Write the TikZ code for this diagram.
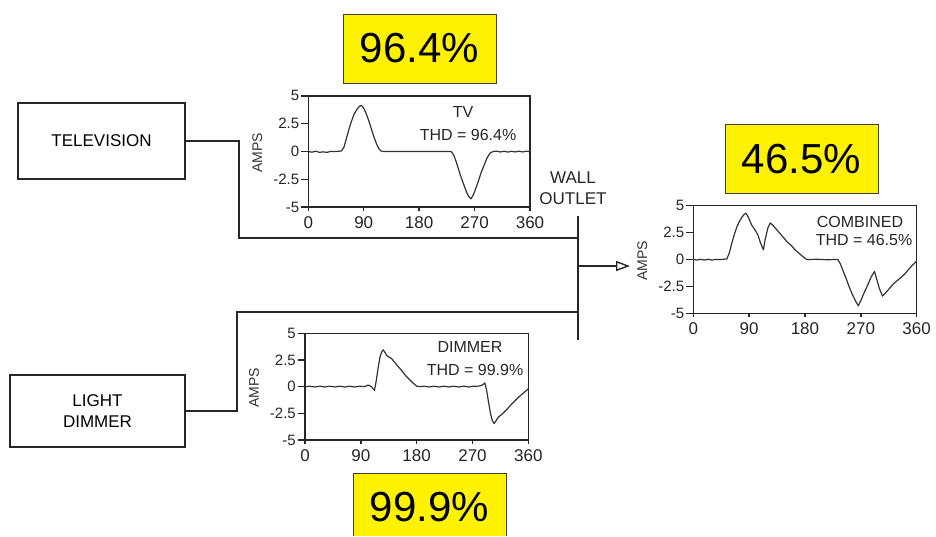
\documentclass[tikz,border=0pt]{standalone}
\usepackage{fontspec}
\setmainfont{Liberation Sans}
\usetikzlibrary{arrows.meta}
\newcommand\axesbox[5]{% #1 name, #2 left, #3 top, #4 width, #5 height
  \draw[tickln] (#2,#3) rectangle (#2+#4,#3+#5);
  \foreach \l [count=\i from 0] in {5,2.5,0,-2.5,-5}{
    \pgfmathsetmacro\yy{#3+\i*#5/4}
    \draw[tickln] (#2,\yy) -- (#2-7,\yy);
    \node[ytl] (#1y\i) at (#2-8,\yy) {\l};}
  \foreach \d [count=\i from 0] in {0,90,180,270,360}{
    \pgfmathsetmacro\xx{#2+\i*#4/4}
    \draw[tickln] (\xx,#3+#5) -- (\xx,#3+#5+4);
    \node[xtl] (#1x\i) at (\xx,#3+#5+8) {\d};}
  \node[ampsl] (#1amps) at (#2-51,#3+#5/2+1) {AMPS};
}
\begin{document}
\begin{tikzpicture}[x=1pt,y=-1pt,
  devbox/.style={draw=black!85,line width=1.6pt,font=\fontsize{17}{21}\selectfont,align=center,inner sep=0pt},
  pct/.style={font=\fontsize{42}{48}\selectfont,inner sep=0pt},
  yel/.style={draw=black!75,line width=1pt,fill=yellow},
  wire/.style={draw=black!85,line width=1.4pt},
  tickln/.style={draw=black!85,line width=1.5pt},
  wave/.style={draw=black!80,line width=1.2pt,line join=round},
  ytl/.style={font=\fontsize{15}{16}\selectfont,anchor=east,inner sep=1pt,text=black!85},
  xtl/.style={font=\fontsize{17}{19}\selectfont,anchor=north,inner sep=1pt,text=black!85},
  ampsl/.style={font=\fontsize{14}{15}\selectfont,rotate=90,inner sep=1pt,text=black!80},
  inl/.style={font=\fontsize{16}{18}\selectfont,inner sep=0pt,text=black!85},
  outl/.style={font=\fontsize{17}{21}\selectfont,align=center,inner sep=0pt,text=black!85}
]
\path[fill=white] (0,0) rectangle (936,536);
\useasboundingbox (0,0) rectangle (936,536);

% plot frames, ticks and tick labels
\axesbox{tvp}{308.3}{95.8}{221.7}{111.4}
\axesbox{dmp}{305}{333.3}{223.3}{106.7}
\axesbox{cbp}{693.3}{205.7}{223.3}{107.6}

% yellow percentage boxes
\draw[yel] (343,14) rectangle (496,83);
\node[pct] (p964) at (419.5,48) {96.4\%};
\draw[yel] (725,124) rectangle (878,193);
\node[pct] (p465) at (801.5,159) {46.5\%};
\fill[yellow] (353,473) rectangle (506,536);
\draw[draw=black!75,line width=1pt] (353,536) -- (353,473) -- (506,473) -- (506,536);
\node[pct] (p999) at (429.5,507) {99.9\%};

% device boxes
\node[devbox,minimum width=167pt,minimum height=76pt] (tv) at (101.5,141) {TELEVISION};
\node[devbox,minimum width=175pt,minimum height=72pt] (dm) at (97.5,411) {LIGHT\\DIMMER};

% wiring
\coordinate (bt) at (578,216);
\coordinate (bb) at (578,340);
\coordinate (tvj) at (578,238);
\coordinate (dmj) at (578,312);
\coordinate (aj) at (578,266);
\coordinate (ae) at (630,266);
\draw[wire] (bt) -- (bb);
\draw[wire] (tv.east) -- ++(53,0) |- (tvj);
\draw[wire] (dm.east) -- ++(51,0) |- (dmj);
\draw[wire,-{Triangle[open,length=14pt,width=10pt,line width=1.4pt]}] (aj) -- (ae);
\node[outl] (wall) at (573,188) {WALL\\OUTLET};

% TV plot
\begin{scope}[shift={(308.3,151.5)},x=0.6158pt,y=11.14pt]
\draw[wave] plot coordinates {(0,0) (6,-0.06) (12,0.03) (18,-0.08) (24,-0.03) (30,-0.08) (36,0) (45,0) (54,0.05) (58,0.4) (62,1.2) (66,2.0) (70,2.7) (74,3.3) (78,3.7) (82,4.0) (86,4.15) (90,3.9) (94,3.4) (98,2.8) (102,2.1) (106,1.4) (110,0.8) (114,0.3) (118,0.05) (122,0) (232,0) (236,-0.3) (240,-0.9) (244,-1.6) (248,-2.3) (252,-2.9) (256,-3.5) (260,-4.0) (264,-4.25) (268,-3.9) (272,-3.3) (276,-2.7) (280,-2.0) (285,-1.3) (290,-0.6) (295,-0.15) (300,0) (306,0.03) (312,-0.04) (318,0.02) (324,-0.05) (330,0.02) (336,-0.04) (342,0.03) (348,-0.04) (354,0.02) (360,0)};
\end{scope}
\node[inl] (tvt) at (463,112) {TV};
\node[inl] (tvthd) at (468,135) {THD = 96.4\%};

% Dimmer plot
\begin{scope}[shift={(305,386.65)},x=0.6203pt,y=10.67pt]
\draw[wave] plot coordinates {(0,0) (8,0.04) (16,-0.03) (24,0.04) (32,-0.03) (40,0.04) (48,-0.03) (56,0.04) (64,-0.03) (72,0.04) (80,-0.03) (88,0.04) (96,0) (102,0.15) (107,0.0) (112,-0.35) (115,0.6) (118,1.8) (121,2.8) (124,3.3) (126,3.45) (129,3.2) (132,2.9) (136,2.75) (140,2.6) (145,2.25) (150,1.9) (156,1.5) (162,1.05) (168,0.7) (174,0.35) (180,0.05) (184,0) (192,0.04) (200,-0.03) (208,0.04) (216,-0.03) (224,0.04) (232,-0.03) (240,0.04) (248,-0.03) (256,0.04) (264,-0.03) (272,0.04) (280,0.05) (286,0.15) (290,0.35) (293,-0.4) (296,-1.5) (299,-2.5) (302,-3.2) (305,-3.45) (308,-3.2) (311,-2.9) (315,-2.7) (320,-2.45) (326,-2.1) (332,-1.7) (338,-1.35) (344,-1.0) (350,-0.7) (355,-0.45) (360,-0.2)};
\end{scope}
\node[inl] (dmt) at (470,347) {DIMMER};
\node[inl] (dmthd) at (475,370) {THD = 99.9\%};

% Combined plot
\begin{scope}[shift={(693.3,259.5)},x=0.6203pt,y=10.76pt]
\draw[wave] plot coordinates {(0,0) (6,-0.05) (12,0.02) (18,-0.06) (24,0.02) (30,-0.05) (36,0) (45,0) (54,0.05) (58,0.6) (62,1.5) (66,2.3) (70,3.0) (74,3.5) (78,3.9) (82,4.2) (85,4.3) (89,3.9) (94,3.2) (99,2.8) (104,2.3) (108,1.6) (113,0.9) (116,1.9) (120,2.9) (124,3.4) (128,3.2) (134,2.8) (140,2.4) (146,2.0) (152,1.6) (158,1.3) (164,0.9) (170,0.6) (176,0.3) (183,0) (200,0.02) (215,-0.02) (233,0) (237,-0.4) (241,-1.0) (246,-1.7) (251,-2.5) (256,-3.2) (261,-3.8) (266,-4.3) (271,-3.7) (276,-3.0) (281,-2.4) (286,-1.7) (292,-1.1) (296,-1.9) (300,-2.7) (305,-3.4) (310,-3.1) (316,-2.7) (322,-2.3) (328,-2.0) (334,-1.7) (340,-1.4) (346,-1.0) (352,-0.6) (360,-0.15)};
\end{scope}
\node[inl] (cbt) at (860,222) {COMBINED};
\node[inl] (cbthd) at (864,240) {THD = 46.5\%};
\end{tikzpicture}
\end{document}
